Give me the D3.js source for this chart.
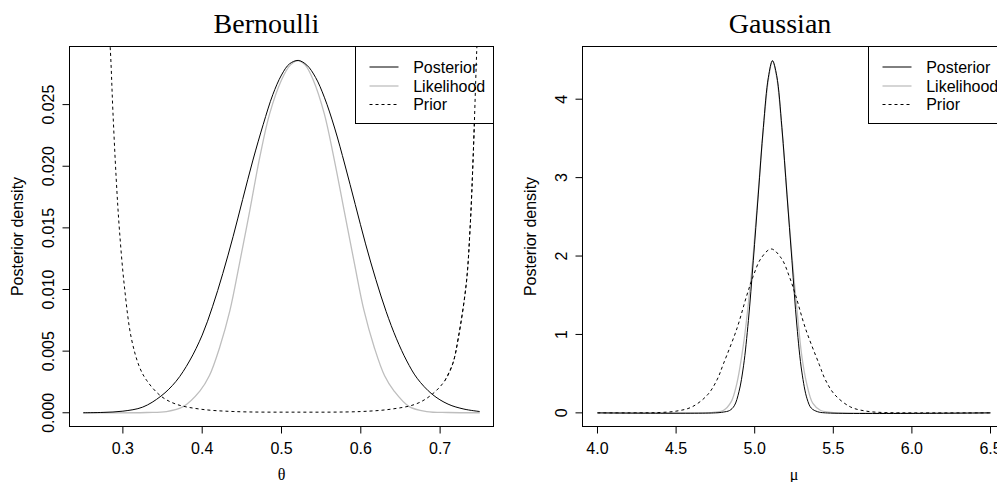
<!DOCTYPE html>
<html>
<head>
<meta charset="utf-8">
<script src="https://cdn.jsdelivr.net/npm/d3@7"></script>
<style>
  html, body { margin: 0; padding: 0; background: #fff; overflow: hidden; }
  svg { display: block; }
</style>
</head>
<body>
<svg id="chart" width="997" height="482"></svg>
<script>
// ---- Bernoulli model: density over theta ----
const bernPosterior = [
  [0.250, 0], [0.275, 0.00003], [0.300, 0.00013], [0.325, 0.00046], [0.348, 0.00135],
  [0.367, 0.00255], [0.384, 0.0042], [0.400, 0.0063], [0.413, 0.0086], [0.426, 0.0113],
  [0.439, 0.0143], [0.451, 0.0173], [0.464, 0.0205], [0.477, 0.0234], [0.489, 0.0258],
  [0.500, 0.0274], [0.510, 0.0283], [0.521, 0.02858], [0.532, 0.0282], [0.543, 0.0272],
  [0.554, 0.0256], [0.567, 0.0231], [0.580, 0.0201], [0.593, 0.0169], [0.606, 0.0137],
  [0.619, 0.0108], [0.632, 0.0082], [0.645, 0.0060], [0.658, 0.0042], [0.671, 0.0028],
  [0.690, 0.0015], [0.710, 0.0007], [0.730, 0.0003], [0.750, 0.0001]
];
const bernLikelihood = [
  [0.250, 0], [0.330, 0.00002], [0.355, 0.0001], [0.376, 0.0005], [0.397, 0.00176],
  [0.409, 0.0030], [0.422, 0.0053], [0.435, 0.0083], [0.447, 0.0121], [0.460, 0.0164],
  [0.4725, 0.0207], [0.485, 0.02425], [0.500, 0.0270], [0.511, 0.0282], [0.521, 0.02858],
  [0.530, 0.0282], [0.540, 0.0270], [0.554, 0.02425], [0.566, 0.0207], [0.579, 0.0164],
  [0.592, 0.0121], [0.604, 0.0083], [0.617, 0.0053], [0.630, 0.0030], [0.642, 0.00176],
  [0.661, 0.0005], [0.683, 0.0001], [0.710, 0.00002], [0.750, 0]
];
const bernPrior = [
  [0.278, 0.036], [0.2844, 0.0292], [0.2874, 0.0245], [0.2915, 0.0191], [0.2957, 0.0148],
  [0.302, 0.0102], [0.3105, 0.0061], [0.321, 0.0037], [0.3303, 0.0026], [0.348, 0.00135],
  [0.367, 0.0007], [0.397, 0.0003], [0.440, 0.0001], [0.518, 0.00005], [0.600, 0.0001],
  [0.639, 0.0003], [0.669, 0.0007], [0.688, 0.0014], [0.7059, 0.0026], [0.716, 0.0040],
  [0.723, 0.0061], [0.733, 0.0105], [0.7378, 0.0150], [0.7418, 0.0210], [0.746, 0.0291],
  [0.750, 0.036]
];
const bernXTicks = [0.3, 0.4, 0.5, 0.6, 0.7];
const bernYTicks = [0.000, 0.005, 0.010, 0.015, 0.020, 0.025];

// ---- Gaussian model: density over mu ----
const gaussPosterior = [
  [4.00, 0], [4.75, 0], [4.80, 0.01], [4.84, 0.03], [4.87, 0.09], [4.90, 0.27],
  [4.929, 0.60], [4.96, 1.18], [4.991, 1.94], [5.023, 2.79], [5.055, 3.64], [5.087, 4.28],
  [5.113, 4.49], [5.140, 4.30], [5.173, 3.64], [5.205, 2.79], [5.237, 1.94], [5.268, 1.12],
  [5.300, 0.52], [5.333, 0.18], [5.360, 0.06], [5.400, 0.015], [5.45, 0], [6.50, 0]
];
const gaussLikelihood = [
  [4.00, 0], [4.70, 0], [4.75, 0.01], [4.80, 0.03], [4.85, 0.14], [4.886, 0.37],
  [4.929, 0.88], [4.96, 1.40], [4.99, 2.00], [5.02, 2.75], [5.055, 3.62], [5.087, 4.25],
  [5.113, 4.49], [5.140, 4.28], [5.173, 3.62], [5.207, 2.75], [5.237, 2.00], [5.265, 1.40],
  [5.300, 0.72], [5.330, 0.38], [5.370, 0.12], [5.420, 0.03], [5.47, 0.01], [5.55, 0], [6.50, 0]
];
const gaussPrior = [
  [4.00, 0], [4.30, 0.001], [4.40, 0.005], [4.50, 0.022], [4.60, 0.075], [4.70, 0.23],
  [4.76, 0.42], [4.80, 0.62], [4.886, 1.07], [4.95, 1.50], [4.99, 1.74], [5.04, 1.97],
  [5.105, 2.09], [5.17, 1.97], [5.22, 1.74], [5.26, 1.50], [5.324, 1.07], [5.41, 0.62],
  [5.45, 0.42], [5.51, 0.23], [5.61, 0.075], [5.71, 0.022], [5.81, 0.005], [5.91, 0.001],
  [6.00, 0], [6.50, 0]
];
const gaussXTicks = [4.0, 4.5, 5.0, 5.5, 6.0, 6.5];
const gaussYTicks = [0, 1, 2, 3, 4];

const legendLabels = ["Posterior", "Likelihood", "Prior"];

// ---- drawing ----
const SANS = '"Liberation Sans", Arial, Helvetica, sans-serif';
const SERIF = '"Liberation Serif", "Times New Roman", serif';
const svg = d3.select("#chart");

const panels = [
  {
    id: "bern", title: "Bernoulli", xlab: "\u03b8", titleShift: -15,
    left: 69.5, right: 493.5, xDomain: [0.2327, 0.7673], yDomain: [-0.001114, 0.029714],
    xTicks: bernXTicks, yTicks: bernYTicks, xFmt: d3.format(".1f"), yFmt: d3.format(".3f"),
    posterior: bernPosterior, likelihood: bernLikelihood, prior: bernPrior, legendLeft: 355.5
  },
  {
    id: "gauss", title: "Gaussian", xlab: "\u03bc", titleShift: -14,
    left: 582.5, right: 1005.5, xDomain: [3.9046, 6.5954], yDomain: [-0.1738, 4.672],
    xTicks: gaussXTicks, yTicks: gaussYTicks, xFmt: d3.format(".1f"), yFmt: d3.format("d"),
    posterior: gaussPosterior, likelihood: gaussLikelihood, prior: gaussPrior, legendLeft: 868.5
  }
];

const TOP = 46.5, BOTTOM = 426.5;

panels.forEach(p => {
  const x = d3.scaleLinear().domain(p.xDomain).range([p.left, p.right]);
  const y = d3.scaleLinear().domain(p.yDomain).range([BOTTOM, TOP]);
  const g = svg.append("g");

  g.append("clipPath").attr("id", "clip-" + p.id)
    .append("rect")
    .attr("x", p.left).attr("y", TOP)
    .attr("width", p.right - p.left).attr("height", BOTTOM - TOP);

  const line = d3.line()
    .x(d => x(d[0])).y(d => y(d[1]))
    .curve(d3.curveCatmullRom.alpha(0.5));

  const curves = g.append("g").attr("clip-path", `url(#clip-${p.id})`);
  curves.append("path").datum(p.likelihood)
    .attr("d", line).attr("fill", "none")
    .attr("stroke", "#bebebe").attr("stroke-width", 1.3);
  curves.append("path").datum(p.posterior)
    .attr("d", line).attr("fill", "none")
    .attr("stroke", "#000").attr("stroke-width", 1);
  curves.append("path").datum(p.prior)
    .attr("d", line).attr("fill", "none")
    .attr("stroke", "#000").attr("stroke-width", 1)
    .attr("stroke-dasharray", "3,3");

  // plot frame
  g.append("rect")
    .attr("x", p.left).attr("y", TOP)
    .attr("width", p.right - p.left).attr("height", BOTTOM - TOP)
    .attr("fill", "none").attr("stroke", "#000").attr("stroke-width", 1);

  // x axis
  const xAxis = g.append("g")
    .attr("transform", `translate(0,${BOTTOM})`)
    .call(d3.axisBottom(x).tickValues(p.xTicks).tickFormat(p.xFmt)
      .tickSize(7).tickSizeOuter(0).offset(0));
  xAxis.select(".domain").remove();
  xAxis.selectAll(".tick line").attr("stroke", "#000");
  xAxis.selectAll(".tick text")
    .attr("y", 27.5).attr("dy", null)
    .attr("font-family", SANS).attr("font-size", 16).attr("fill", "#000");
  xAxis.attr("font-family", null).attr("font-size", null);

  // y axis with labels turned parallel to the axis
  const yAxis = g.append("g")
    .attr("transform", `translate(${p.left},0)`)
    .call(d3.axisLeft(y).tickValues(p.yTicks).tickFormat(p.yFmt)
      .tickSize(7).tickSizeOuter(0).offset(0));
  yAxis.select(".domain").remove();
  yAxis.selectAll(".tick line").attr("stroke", "#000");
  yAxis.selectAll(".tick text")
    .attr("x", 0).attr("y", -16).attr("dy", null)
    .attr("transform", "rotate(-90)")
    .attr("text-anchor", "middle")
    .attr("font-family", SANS).attr("font-size", 16).attr("fill", "#000");
  yAxis.attr("font-family", null).attr("font-size", null);

  // axis titles
  const cx = (p.left + p.right) / 2;
  const cy = (TOP + BOTTOM) / 2;
  g.append("text")
    .attr("transform", `translate(${p.left - 46.5},${cy}) rotate(-90)`)
    .attr("text-anchor", "middle")
    .attr("font-family", SANS).attr("font-size", 16)
    .text("Posterior density");
  g.append("text")
    .attr("x", cx).attr("y", 480)
    .attr("text-anchor", "middle")
    .attr("font-family", SERIF).attr("font-size", 16)
    .text(p.xlab);
  g.append("text")
    .attr("x", cx + p.titleShift).attr("y", 32.7)
    .attr("text-anchor", "middle")
    .attr("font-family", SERIF).attr("font-size", 28)
    .text(p.title);

  // legend
  const lg = g.append("g");
  lg.append("rect")
    .attr("x", p.legendLeft).attr("y", TOP)
    .attr("width", p.right - p.legendLeft).attr("height", 77)
    .attr("fill", "#fff").attr("stroke", "#000").attr("stroke-width", 1);
  const styles = [
    { stroke: "#000", width: 1, dash: null },
    { stroke: "#bebebe", width: 1.3, dash: null },
    { stroke: "#000", width: 1, dash: "3,3" }
  ];
  const rowY = [67, 86, 104.5];
  legendLabels.forEach((lab, i) => {
    lg.append("line")
      .attr("x1", p.legendLeft + 14).attr("x2", p.legendLeft + 43)
      .attr("y1", rowY[i]).attr("y2", rowY[i])
      .attr("stroke", styles[i].stroke).attr("stroke-width", styles[i].width)
      .attr("stroke-dasharray", styles[i].dash);
    lg.append("text")
      .attr("x", p.legendLeft + 57.7).attr("y", rowY[i] + 5.8)
      .attr("font-family", SANS).attr("font-size", 16)
      .text(lab);
  });

  // the prior curve runs over the legend box in the Bernoulli panel
  if (p.id === "bern") {
    const over = g.append("g").attr("clip-path", `url(#clip-${p.id})`);
    over.append("path").datum(p.prior.filter(d => d[0] > 0.7))
      .attr("d", line).attr("fill", "none")
      .attr("stroke", "#000").attr("stroke-width", 1)
      .attr("stroke-dasharray", "3,3");
  }
});
</script>
</body>
</html>
